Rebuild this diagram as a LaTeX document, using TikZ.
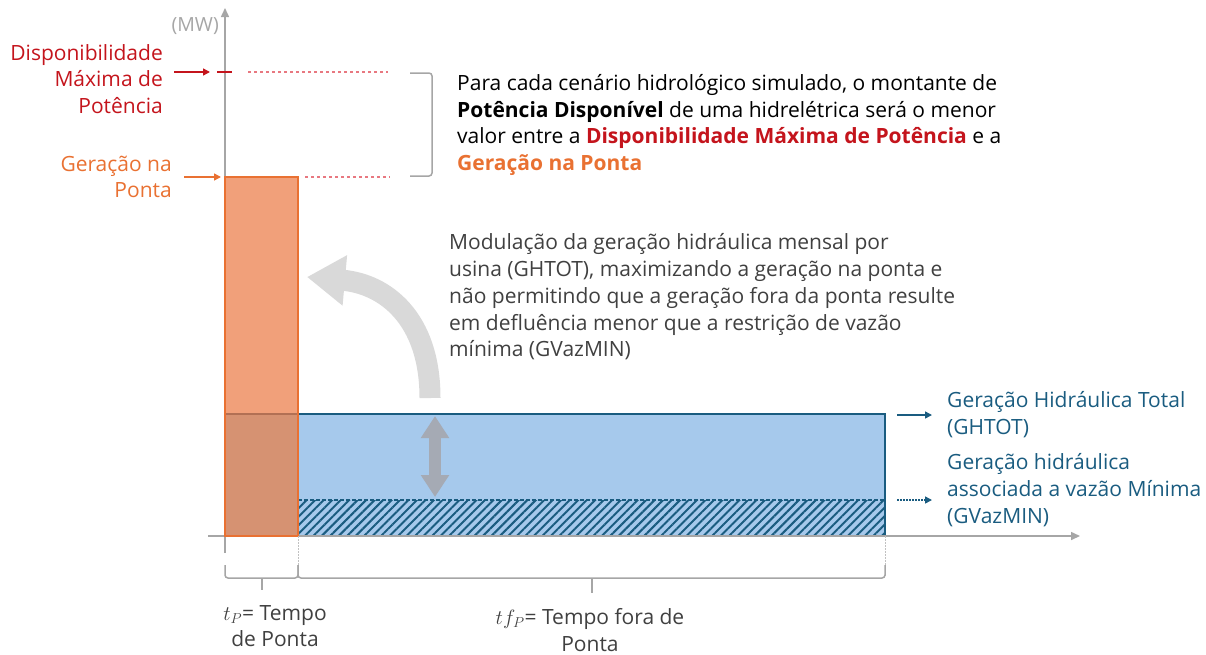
\documentclass[tikz,border=0pt]{standalone}
\usepackage{fontspec}
\usepackage{amsmath}
\setmainfont{Open Sans}
\usetikzlibrary{arrows.meta,patterns.meta,positioning}
\definecolor{dispred}{RGB}{196,20,28}
\definecolor{dotred}{RGB}{232,120,128}
\definecolor{pontaorange}{RGB}{233,113,50}
\definecolor{pontafill}{RGB}{241,160,122}
\definecolor{overlapfill}{RGB}{214,146,114}
\definecolor{overlapline}{RGB}{178,112,84}
\definecolor{ghblue}{RGB}{166,201,236}
\definecolor{ghdark}{RGB}{26,92,128}
\definecolor{axisgray}{RGB}{166,166,166}
\definecolor{bendgray}{RGB}{217,217,217}
\definecolor{modgray}{RGB}{165,170,180}
\definecolor{textgray}{RGB}{64,64,64}

\begin{document}
\begin{tikzpicture}[
		x=1pt, y=-1pt,
		lbl/.style={font=\fontsize{21}{26.8}\selectfont, inner sep=0pt},
		axis/.style={axisgray, line width=1.5pt, -{Triangle[length=9pt,width=8pt]}},
		levelarrow/.style={line width=1.5pt, -{Triangle[length=7pt,width=7pt]}},
		dotline/.style={dotred, line width=2.5pt, dash pattern=on 2.5pt off 3.5pt},
		guide/.style={axisgray!70, line width=1pt, dash pattern=on 1.5pt off 1.5pt},
		bracket/.style={axisgray, line width=1.5pt, rounded corners=3pt}
		]
		\useasboundingbox (0,0) rectangle (1206,654);
		\coordinate (o) at (225,536);
		\coordinate (ytop) at (225,8);
		\coordinate (ybot) at (225,553);
		\coordinate (xleft) at (208,536);
		\coordinate (xright) at (1080,536);
		\coordinate (dmlevel) at (225,72);
		\coordinate (gplevel) at (225,177);
		\coordinate (tpend) at (298,536);
		\coordinate (tfend) at (885,536);

		\fill[ghblue] (298,414) rectangle (tfend);
		\fill[pattern={Lines[angle=45,distance=6pt,line width=2pt]}, pattern color=ghdark] (298,500) rectangle (tfend);
		\draw[ghdark, line width=1.5pt, dash pattern=on 4pt off 2pt] (298,500) -- (885,500);
		\draw[ghdark, line width=1.5pt] (298,414) -- (885,414) -- (tfend);
		\draw[axis] (ybot) -- (ytop);
		\draw[axis] (xleft) -- (xright);
		\fill[pontafill] (gplevel) rectangle (tpend);
		\fill[overlapfill] (225,414) rectangle (tpend);
		\draw[overlapline, line width=1.5pt] (225,414) -- (298,414);
		\draw[pontaorange, line width=1.5pt] (o) -- (gplevel) -- (298,177) -- (tpend) -- cycle;

		\node[lbl, font=\fontsize{19.5}{26}\selectfont, text=axisgray, anchor=east] (mw) at (219,26) {(MW)};
		\node[lbl, text=dispred, align=right, anchor=east] (dispmax) at (163,79) {Disponibilidade\\Máxima de\\Potência};
		\node[lbl, text=pontaorange, align=right, anchor=east] (gerponta) at (172,177) {Geração na\\Ponta};
		\draw[dispred, levelarrow] ([xshift=-51pt]dmlevel) -- ([xshift=-15pt]dmlevel);
		\draw[dispred, line width=2pt] ([xshift=-8pt]dmlevel) -- ([xshift=7pt]dmlevel);
		\draw[dotline] ([xshift=23pt]dmlevel) -- ([xshift=163pt]dmlevel);
		\draw[pontaorange, levelarrow] ([xshift=-41pt]gplevel) -- ([xshift=-4pt]gplevel);
		\draw[dotline] ([xshift=80pt]gplevel) -- ([xshift=165pt]gplevel);
		\draw[bracket] (410,73) -- (432,73) -- (432,176) -- (410,176);

		\node[lbl, align=left, anchor=west] (potdisp) at (457,125) {Para cada cenário hidrológico simulado, o montante de\\\textbf{Potência Disponível} de uma hidrelétrica será o menor\\valor entre a \textcolor{dispred}{\textbf{Disponibilidade Máxima de Potência}} e a\\\textcolor{pontaorange}{\textbf{Geração na Ponta}}};

		\node[lbl, text=textgray, align=left, anchor=west] (modul) at (449,297) {Modulação da geração hidráulica mensal por\\usina (GHTOT), maximizando a geração na ponta e\\não permitindo que a geração fora da ponta resulte\\em defluência menor que a restrição de vazão\\mínima (GVazMIN)};
		\draw[bendgray, line width=21pt, -{Triangle[length=38pt,width=48pt]}] (430,398) .. controls (430,318) and (385,284) .. (307,277);
		\draw[modgray, line width=12pt, {Triangle[length=22pt,width=27pt]}-{Triangle[length=22pt,width=27pt]}] (435,416) -- (435,497);

		\node[lbl, text=ghdark, align=left, anchor=west] (ghtot) at (947,415) {Geração Hidráulica Total\\(GHTOT)};
		\node[lbl, text=ghdark, align=left, anchor=west] (gvazmin) at (947,490) {Geração hidráulica\\associada a vazão Mínima\\(GVazMIN)};
		\draw[ghdark, levelarrow] ([xshift=-50pt]ghtot.west) -- ([xshift=-15pt]ghtot.west);
		\draw[ghdark, levelarrow, dash pattern=on 1.5pt off 1.5pt] ([xshift=-50pt,yshift=-10pt]gvazmin.west) -- ([xshift=-15pt,yshift=-10pt]gvazmin.west);

		\draw[guide] (tpend) -- (298,576);
		\draw[guide] (tfend) -- (885,576);
		\draw[bracket] (225,565) |- (298,578) -- (298,565);
		\draw[bracket] (262,578) -- (262,590);
		\draw[bracket] (298,565) |- (885,578) -- (885,565);
		\draw[bracket] (592,578) -- (592,593);
		\node[lbl, text=textgray, align=center] (tp) at (275,626) {$t_P$= Tempo\\de Ponta};
		\node[lbl, text=textgray, align=center] (tfp) at (590,630) {$tf_P$= Tempo fora de\\Ponta};
\end{tikzpicture}
\end{document}
